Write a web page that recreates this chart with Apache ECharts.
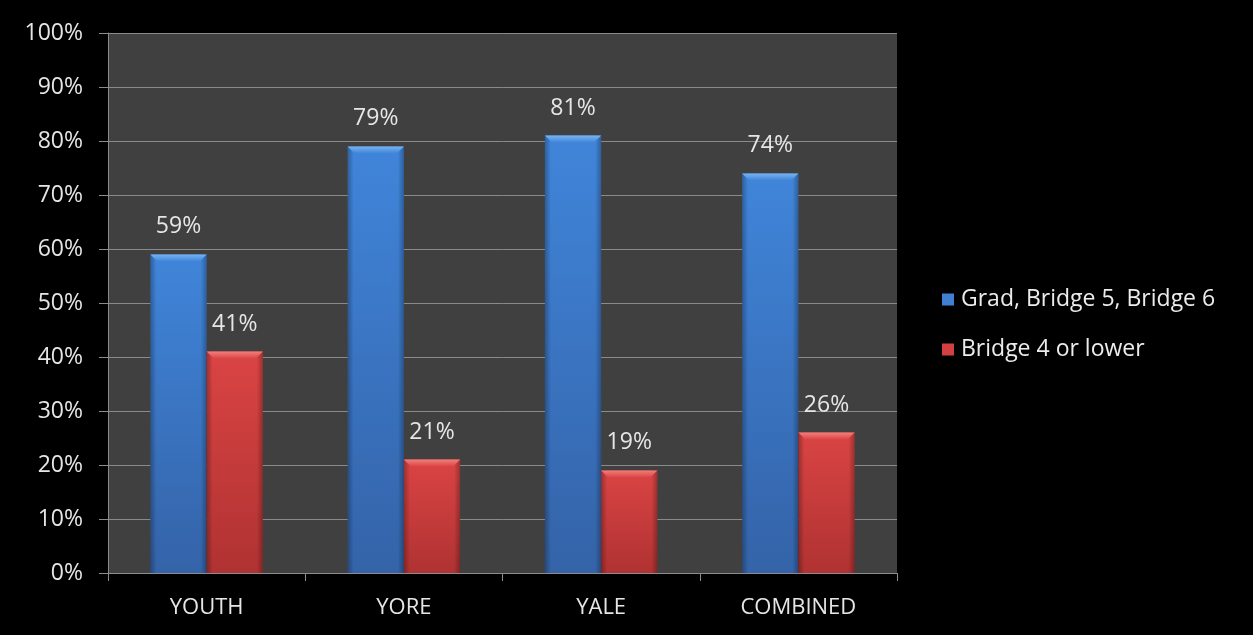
<!DOCTYPE html>
<html>
<head>
<meta charset="utf-8">
<script src="https://cdn.jsdelivr.net/npm/echarts@6/dist/echarts.min.js"></script>
<style>
  html, body { margin: 0; padding: 0; background: #000; }
  #chart { width: 1253px; height: 635px; }
</style>
</head>
<body>
<div id="chart"></div>
<script>
// Share of students by program and bridge level
const categories = ['YOUTH', 'YORE', 'YALE', 'COMBINED'];
const seriesNames = ['Grad, Bridge 5, Bridge 6', 'Bridge 4 or lower'];
const gradValues = [59, 79, 81, 74];
const lowerValues = [41, 21, 19, 26];
const yTicks = [0, 10, 20, 30, 40, 50, 60, 70, 80, 90, 100];

const CAT_GAP = 0.43;           // fraction of a category left empty
const FONT = '"Open Sans", "Noto Sans", sans-serif';

const palette = {
  blue: { top: '#4085da', bottom: '#3463a8', bevel: '#78b4f2', legend: '#3f80d2' },
  red:  { top: '#da4444', bottom: '#b03232', bevel: '#f27e7c', legend: '#d24040' }
};

function barFill(c) {
  return {
    type: 'linear', x: 0, y: 0, x2: 0, y2: 1,
    colorStops: [{ offset: 0, color: c.top }, { offset: 1, color: c.bottom }]
  };
}

// Bevelled cap and shaded sides drawn over each bar, positioned through the axis scales
function bevel(values, side, c) {
  return {
    type: 'custom',
    silent: true,
    z: 5,
    data: values.map((v, i) => [i, v]),
    renderItem: function (params, api) {
      const top = api.coord([api.value(0), api.value(1)]);
      const base = api.coord([api.value(0), 0]);
      const catW = api.size([1, 0])[0];
      const bw = catW * (1 - CAT_GAP) / 2;
      const left = side < 0 ? top[0] - bw : top[0];
      const right = left + bw;
      const b = 7;
      const h = base[1] - top[1];
      const shade = (x0, dir) => ({
        type: 'rect',
        shape: { x: x0, y: top[1], width: 6, height: h },
        style: {
          fill: {
            type: 'linear', x: dir > 0 ? 0 : 1, y: 0, x2: dir > 0 ? 1 : 0, y2: 0,
            colorStops: [{ offset: 0, color: 'rgba(0,0,0,0.28)' }, { offset: 1, color: 'rgba(0,0,0,0)' }]
          }
        }
      });
      return {
        type: 'group',
        children: [
          shade(left, 1),
          shade(right - 6, -1),
          {
            type: 'polygon',
            shape: { points: [[left, top[1]], [right, top[1]], [right - b, top[1] + b], [left + b, top[1] + b]] },
            style: {
              fill: {
                type: 'linear', x: 0, y: 0, x2: 0, y2: 1,
                colorStops: [{ offset: 0, color: c.bevel }, { offset: 1, color: c.top }]
              }
            }
          }
        ]
      };
    }
  };
}

const labelStyle = {
  show: true,
  position: 'top',
  distance: 16,
  color: '#e6e6e6',
  fontSize: 23,
  fontFamily: FONT,
  formatter: p => p.value + '%'
};

const chart = echarts.init(document.getElementById('chart'));
chart.setOption({
  backgroundColor: '#000',
  animation: false,
  grid: {
    left: 108, right: 356, top: 33, bottom: 62,
    show: true, backgroundColor: '#404040', borderWidth: 0
  },
  legend: {
    orient: 'vertical',
    left: 937, top: 283,
    itemGap: 27,
    itemWidth: 12, itemHeight: 12,
    icon: 'rect',
    data: [
      { name: seriesNames[0], itemStyle: { color: palette.blue.legend } },
      { name: seriesNames[1], itemStyle: { color: palette.red.legend } }
    ],
    textStyle: { color: '#ececec', fontSize: 23, fontFamily: FONT, padding: [0, 0, 0, 2] }
  },
  xAxis: {
    type: 'category',
    data: categories,
    axisLine: { lineStyle: { color: '#8c8c8c', width: 1 } },
    axisTick: { show: true, length: 8, alignWithLabel: false, lineStyle: { color: '#8c8c8c' } },
    axisLabel: { color: '#e6e6e6', fontSize: 22, fontFamily: FONT, margin: 24 }
  },
  yAxis: {
    type: 'value',
    min: yTicks[0], max: yTicks[yTicks.length - 1], interval: 10,
    axisLine: { show: true, lineStyle: { color: '#8c8c8c' } },
    axisTick: { show: true, inside: false, length: 9, lineStyle: { color: '#8c8c8c' } },
    splitLine: { lineStyle: { color: '#8a8a8a', width: 1 } },
    axisLabel: { color: '#e6e6e6', fontSize: 23, fontFamily: FONT, margin: 25, formatter: '{value}%' }
  },
  series: [
    {
      name: seriesNames[0], type: 'bar', data: gradValues,
      barGap: '0%', barCategoryGap: (CAT_GAP * 100) + '%',
      itemStyle: { color: barFill(palette.blue) },
      label: labelStyle,
      z: 3
    },
    {
      name: seriesNames[1], type: 'bar', data: lowerValues,
      itemStyle: { color: barFill(palette.red) },
      label: labelStyle,
      z: 3
    },
    bevel(gradValues, -1, palette.blue),
    bevel(lowerValues, 1, palette.red)
  ]
});
</script>
</body>
</html>
